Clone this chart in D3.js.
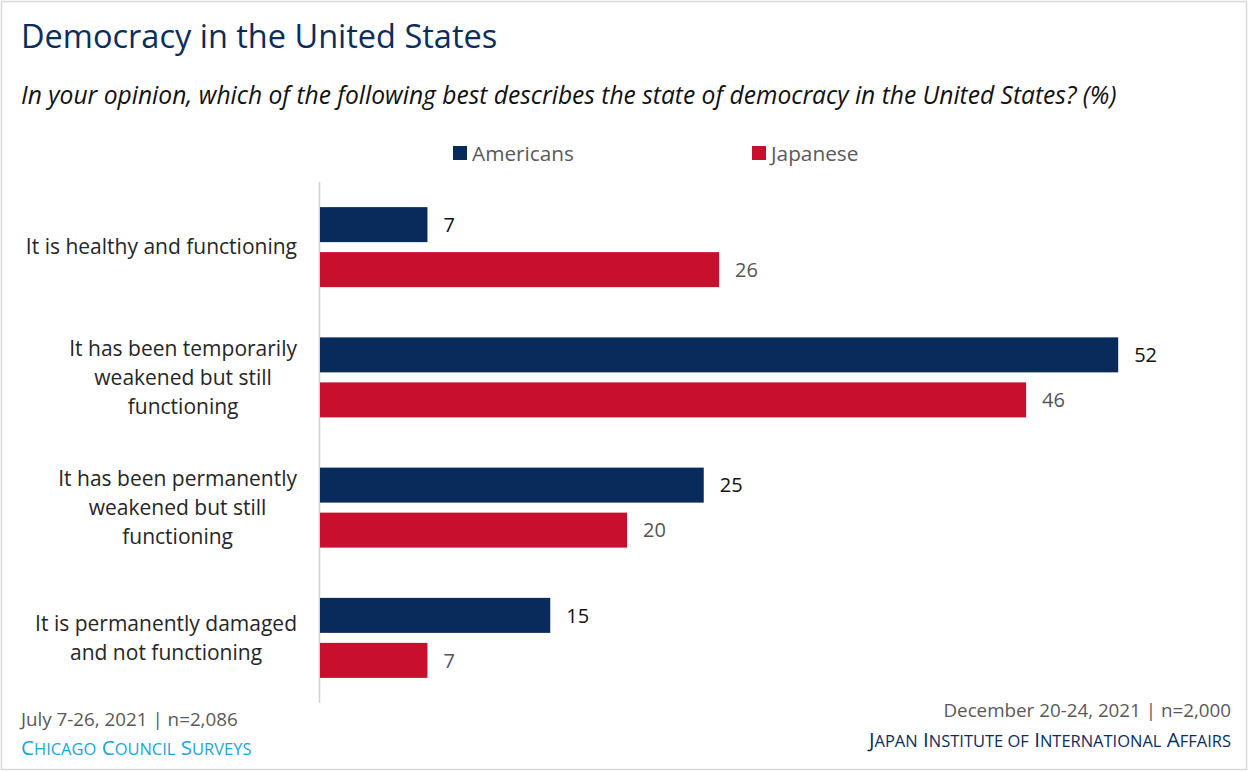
<!DOCTYPE html>
<html>
<head>
<meta charset="utf-8">
<script src="https://cdn.jsdelivr.net/npm/d3@7"></script>
<style>
  html, body { margin: 0; padding: 0; background: #fff; }
  svg { display: block; font-family: "Open Sans", sans-serif; }
</style>
</head>
<body>
<svg id="chart" width="1248" height="771"></svg>
<script>
// Survey answers (each answer wrapped onto its display lines)
const categories = [
  "It is healthy and functioning",
  "It has been temporarily weakened but still functioning",
  "It has been permanently weakened but still functioning",
  "It is permanently damaged and not functioning"
];
const categoryLines = [
  ["It is healthy and functioning"],
  ["It has been temporarily", "weakened but still", "functioning"],
  ["It has been permanently", "weakened but still", "functioning"],
  ["It is permanently damaged", "and not functioning"]
];
const seriesNames = ["Americans", "Japanese"];
const americans = [7, 52, 25, 15];
const japanese = [26, 46, 20, 7];
const seriesColors = ["#082b5c", "#c8102e"];
const valueColors = ["#111111", "#555555"];

const svg = d3.select("#chart");
const W = 1248, H = 771;

// outer frame
svg.append("rect")
  .attr("x", 1.5).attr("y", 1.5)
  .attr("width", W - 3).attr("height", H - 3)
  .attr("fill", "#fff").attr("stroke", "#d9d9d9").attr("stroke-width", 1.5);

// title and question
svg.append("text")
  .attr("x", 21).attr("y", 48)
  .attr("font-size", 32.5).attr("fill", "#0b2d5b")
  .text("Democracy in the United States");
svg.append("text")
  .attr("x", 21).attr("y", 104)
  .attr("font-size", 24.6).attr("font-style", "italic").attr("fill", "#111")
  .text("In your opinion, which of the following best describes the state of democracy in the United States? (%)");

// scales
const y = d3.scaleBand().domain(categories).range([182, 703]).paddingInner(0).paddingOuter(0);
const ySub = d3.scaleBand().domain(seriesNames).range([0, y.bandwidth()])
  .paddingInner(10 / 45).paddingOuter(0.558);
const x = d3.scaleLinear().domain([0, 60]).range([320, 320 + 60 * 15.35]);

// legend
const legendX = [453, 752];
seriesNames.forEach((name, i) => {
  const g = svg.append("g").attr("transform", `translate(${legendX[i]},146)`);
  g.append("rect").attr("width", 14).attr("height", 14).attr("fill", seriesColors[i]);
  g.append("text").attr("x", 19).attr("y", 14.5)
    .attr("font-size", 20.8).attr("fill", "#595959").text(name);
});

// vertical baseline
svg.append("line")
  .attr("x1", x(0) - 0.5).attr("x2", x(0) - 0.5)
  .attr("y1", y.range()[0]).attr("y2", y.range()[1])
  .attr("stroke", "#d0d0d0").attr("stroke-width", 1.5);

// bars and value labels
const rows = categories.map((c, i) => ({ cat: c, values: [americans[i], japanese[i]] }));
const groups = svg.append("g").selectAll("g").data(rows).join("g")
  .attr("transform", d => `translate(0,${y(d.cat)})`);

groups.selectAll("rect").data(d => d.values.map((v, j) => ({ v, s: seriesNames[j], j })))
  .join("rect")
  .attr("x", x(0))
  .attr("y", d => ySub(d.s))
  .attr("width", d => x(d.v) - x(0))
  .attr("height", ySub.bandwidth())
  .attr("fill", d => seriesColors[d.j]);

groups.selectAll("text.val").data(d => d.values.map((v, j) => ({ v, s: seriesNames[j], j })))
  .join("text").attr("class", "val")
  .attr("x", d => x(d.v) + 16)
  .attr("y", d => ySub(d.s) + ySub.bandwidth() / 2)
  .attr("dy", "0.36em")
  .attr("font-size", 20)
  .attr("fill", d => valueColors[d.j])
  .text(d => d.v);

// category labels: centred block, right edge aligned near the baseline
const labelRight = 297, lineH = 29;
categories.forEach((c, i) => {
  const lines = categoryLines[i];
  const t = svg.append("text")
    .attr("font-size", 21).attr("fill", "#262626")
    .attr("text-anchor", "middle");
  const cy = y(c) + y.bandwidth() / 2;
  const top = cy - (lines.length - 1) * lineH / 2;
  lines.forEach((ln, k) => {
    t.append("tspan").attr("y", top + k * lineH).attr("dy", "0.35em").text(ln);
  });
  let maxW = 0;
  t.selectAll("tspan").each(function () { maxW = Math.max(maxW, this.getComputedTextLength()); });
  t.selectAll("tspan").attr("x", labelRight - maxW / 2);
});

// small-caps text: capital initials at full size, the rest as smaller capitals
function smallCaps(sel, str, size) {
  const words = str.split(" ");
  words.forEach((w, i) => {
    const first = w[0], rest = w.slice(1);
    const cap = first === first.toUpperCase();
    sel.append("tspan").attr("font-size", cap ? size : size * 0.8)
      .text((i > 0 ? " " : "") + first.toUpperCase());
    if (rest) sel.append("tspan").attr("font-size", size * 0.8).text(rest.toUpperCase());
  });
}

// source notes
svg.append("text").attr("x", 21).attr("y", 726)
  .attr("font-size", 18.8).attr("fill", "#595959")
  .text("July 7-26, 2021 | n=2,086");
smallCaps(svg.append("text").attr("x", 21).attr("y", 755).attr("fill", "#1aa6d6"),
  "Chicago Council Surveys", 20.6);
svg.append("text").attr("x", 1231).attr("y", 717)
  .attr("text-anchor", "end")
  .attr("font-size", 18.8).attr("fill", "#595959")
  .text("December 20-24, 2021 | n=2,000");
smallCaps(svg.append("text").attr("x", 1231).attr("y", 747).attr("text-anchor", "end").attr("fill", "#0b2d5b"),
  "Japan Institute of International Affairs", 20.6);
</script>
</body>
</html>
